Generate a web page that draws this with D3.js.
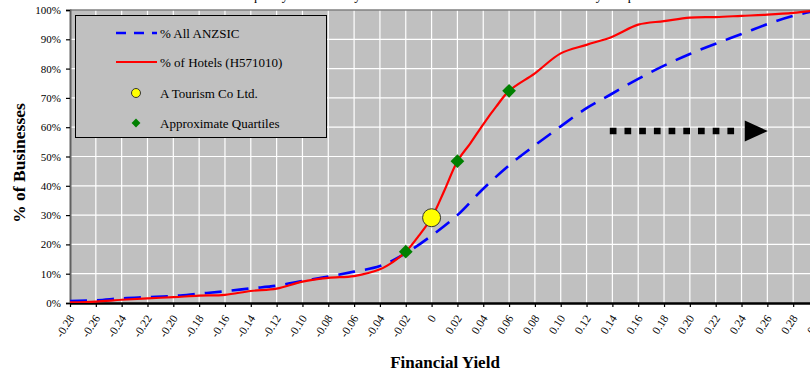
<!DOCTYPE html>
<html>
<head>
<meta charset="utf-8">
<script src="https://cdn.jsdelivr.net/npm/d3@7"></script>
<style>
  html, body { margin: 0; padding: 0; background: #fff; }
  svg { display: block; font-family: "Liberation Serif", "Times New Roman", serif; }
</style>
</head>
<body>
<svg id="chart" width="810" height="373"></svg>
<script>
// Cumulative share of businesses by financial yield
const yieldAll = [-0.28, -0.26, -0.24, -0.22, -0.20, -0.18, -0.16, -0.14, -0.12, -0.10, -0.08, -0.06, -0.04, -0.02, 0,
                  0.02, 0.04, 0.06, 0.08, 0.10, 0.12, 0.14, 0.16, 0.18, 0.20, 0.22, 0.24, 0.26, 0.28, 0.30];
const pctAll   = [0.7, 0.9, 1.6, 2.0, 2.4, 3.2, 4.0, 5.0, 5.9, 7.5, 9.0, 10.7, 12.6, 17.0, 23.0,
                  30.0, 39.0, 47.0, 53.8, 60.3, 66.5, 71.5, 76.5, 81.0, 85.0, 88.5, 91.8, 95.2, 98.0, 100];

const yieldHotels = [-0.28, -0.26, -0.24, -0.22, -0.20, -0.18, -0.16, -0.14, -0.12, -0.10, -0.08, -0.06, -0.04, -0.03, -0.02, -0.01, 0,
                     0.01, 0.02, 0.03, 0.04, 0.05, 0.06, 0.08, 0.10, 0.12, 0.14, 0.16, 0.18, 0.20, 0.22, 0.24, 0.26, 0.28, 0.30];
const pctHotels   = [0.2, 0.5, 1.1, 1.6, 2.0, 2.5, 2.8, 4.1, 4.9, 7.3, 8.6, 9.2, 11.5, 14.0, 17.5, 22.9, 29.1,
                     38.5, 48.4, 54.5, 61.0, 67.0, 72.4, 78.4, 85.2, 88.1, 90.9, 95.0, 96.2, 97.4, 97.6, 98.0, 98.4, 99.0, 100];

const companyPoint = { yield: 0, pct: 29.1 };
const quartileYield = [-0.02, 0.02, 0.06];
const quartilePct   = [17.5, 48.4, 72.4];

// Dotted arrow pointing towards higher yields
const arrowYield = [0.138, 0.258];
const arrowPct = 58.7;

const xTicks = [-0.28, -0.26, -0.24, -0.22, -0.20, -0.18, -0.16, -0.14, -0.12, -0.10, -0.08, -0.06, -0.04, -0.02, 0,
                0.02, 0.04, 0.06, 0.08, 0.10, 0.12, 0.14, 0.16, 0.18, 0.20, 0.22, 0.24, 0.26, 0.28, 0.30];
const yTicks = [0, 10, 20, 30, 40, 50, 60, 70, 80, 90, 100];

const legendItems = ["% All ANZSIC", "% of Hotels (H571010)", "A Tourism Co Ltd.", "Approximate Quartiles"];
const titleText = "Frequency of financial yield across all industries and the hotel industry compared";

const svg = d3.select("#chart");
const plot = { left: 70, top: 10, right: 819, bottom: 303 };

const x = d3.scaleLinear().domain([-0.28, 0.30]).range([plot.left, plot.right]);
const y = d3.scaleLinear().domain([0, 100]).range([plot.bottom, plot.top]);

// Title (sits at the very top edge)
svg.append("text")
  .attr("x", 445).attr("y", 0)
  .attr("text-anchor", "middle")
  .attr("font-size", 13)
  .attr("fill", "#000")
  .text(titleText);

// Plot background
svg.append("rect")
  .attr("x", plot.left).attr("y", plot.top)
  .attr("width", plot.right - plot.left).attr("height", plot.bottom - plot.top)
  .attr("fill", "#c0c0c0");

// Grid lines
const grid = svg.append("g").attr("stroke", "#ffffff").attr("stroke-width", 1.2);
grid.selectAll("line.v").data(xTicks.slice(1)).join("line")
  .attr("x1", d => x(d)).attr("x2", d => x(d))
  .attr("y1", plot.top).attr("y2", plot.bottom);
grid.selectAll("line.h").data(yTicks.slice(1, -1)).join("line")
  .attr("x1", plot.left).attr("x2", plot.right)
  .attr("y1", d => y(d)).attr("y2", d => y(d));

// Top border
svg.append("line")
  .attr("x1", plot.left).attr("x2", plot.right)
  .attr("y1", plot.top).attr("y2", plot.top)
  .attr("stroke", "#808080").attr("stroke-width", 1.5);

// Y axis
const yAxis = svg.append("g")
  .attr("transform", `translate(${plot.left},0)`)
  .call(d3.axisLeft(y).tickValues(yTicks).tickFormat(d => d + "%").tickSize(4).tickPadding(5));
yAxis.select(".domain").attr("stroke", "#606060").attr("stroke-width", 2);
yAxis.selectAll(".tick line").attr("stroke", "#000").attr("stroke-width", 1.2);
yAxis.selectAll(".tick text").attr("font-size", 11).attr("font-family", "Liberation Serif, serif").attr("fill", "#000");

// X axis (plain hyphen for negatives)
const fmtX = d => d === 0 ? "0" : d3.format(".2f")(d).replace("\u2212", "-");
const xAxis = svg.append("g")
  .attr("transform", `translate(0,${plot.bottom})`)
  .call(d3.axisBottom(x).tickValues(xTicks).tickFormat(fmtX).tickSize(4).tickSizeOuter(0));
xAxis.select(".domain").attr("stroke", "#000").attr("stroke-width", 2.5);
xAxis.selectAll(".tick line").attr("stroke", "#000").attr("stroke-width", 1.2);
xAxis.selectAll(".tick text")
  .attr("font-size", 11.5).attr("font-family", "Liberation Serif, serif").attr("fill", "#000")
  .attr("text-anchor", "end")
  .attr("x", 0).attr("y", 0).attr("dy", "0.35em")
  .attr("transform", "translate(1,13) rotate(-57)");

// Axis titles
svg.append("text")
  .attr("x", 445).attr("y", 368)
  .attr("text-anchor", "middle")
  .attr("font-size", 17).attr("font-weight", "bold")
  .text("Financial Yield");
svg.append("text")
  .attr("transform", "translate(25,163) rotate(-90)")
  .attr("text-anchor", "middle")
  .attr("font-size", 17.5).attr("font-weight", "bold")
  .text("% of Businesses");

// Lines
const line = d3.line().x(d => x(d[0])).y(d => y(d[1])).curve(d3.curveCatmullRom.alpha(0.5));
svg.append("clipPath").attr("id", "plotClip").append("rect")
  .attr("x", plot.left).attr("y", plot.top - 3)
  .attr("width", plot.right - plot.left).attr("height", plot.bottom - plot.top + 3);

const series = svg.append("g").attr("clip-path", "url(#plotClip)");
series.append("path")
  .datum(d3.zip(yieldAll, pctAll))
  .attr("d", line)
  .attr("fill", "none").attr("stroke", "#0000ff").attr("stroke-width", 2.6)
  .attr("stroke-dasharray", "17,10");
series.append("path")
  .datum(d3.zip(yieldHotels, pctHotels))
  .attr("d", line)
  .attr("fill", "none").attr("stroke", "#ff0000").attr("stroke-width", 2.2);

// Quartile markers
const diamond = d3.symbol().type(d3.symbolDiamond2).size(120);
svg.append("g").selectAll("path").data(d3.zip(quartileYield, quartilePct)).join("path")
  .attr("d", diamond)
  .attr("transform", d => `translate(${x(d[0])},${y(d[1])})`)
  .attr("fill", "#008000");

// Company marker
svg.append("circle")
  .attr("cx", x(companyPoint.yield)).attr("cy", y(companyPoint.pct))
  .attr("r", 9)
  .attr("fill", "#ffff00").attr("stroke", "#333").attr("stroke-width", 1);

// Dotted arrow
const ay = y(arrowPct);
svg.append("line")
  .attr("x1", x(arrowYield[0])).attr("x2", x(arrowYield[1]) - 30)
  .attr("y1", ay).attr("y2", ay)
  .attr("stroke", "#000").attr("stroke-width", 6.7)
  .attr("stroke-dasharray", "6.7,8");
const tipX = x(arrowYield[1]) + 3;
svg.append("path")
  .attr("d", `M${tipX - 23},${ay - 10.5}L${tipX},${ay}L${tipX - 23},${ay + 10.5}Z`)
  .attr("fill", "#000");

// Legend
const lg = svg.append("g");
lg.append("rect")
  .attr("x", 75.5).attr("y", 15.5).attr("width", 251).attr("height", 122)
  .attr("fill", "#c0c0c0").attr("stroke", "#000").attr("stroke-width", 1);
const rowY = [33, 62, 93, 123];
lg.append("line").attr("x1", 116).attr("x2", 157).attr("y1", rowY[0]).attr("y2", rowY[0])
  .attr("stroke", "#0000ff").attr("stroke-width", 2.6).attr("stroke-dasharray", "10,8");
lg.append("line").attr("x1", 116).attr("x2", 157).attr("y1", rowY[1]).attr("y2", rowY[1])
  .attr("stroke", "#ff0000").attr("stroke-width", 2.2);
lg.append("circle").attr("cx", 136).attr("cy", rowY[2]).attr("r", 4.5)
  .attr("fill", "#ffff00").attr("stroke", "#333").attr("stroke-width", 1);
lg.append("path").attr("d", d3.symbol().type(d3.symbolDiamond2).size(50))
  .attr("transform", `translate(136,${rowY[3]})`).attr("fill", "#008000");
lg.selectAll("text").data(legendItems).join("text")
  .attr("x", 160).attr("y", (d, i) => rowY[i]).attr("dy", "0.35em")
  .attr("font-size", 13).attr("fill", "#000")
  .text(d => d);
</script>
</body>
</html>
